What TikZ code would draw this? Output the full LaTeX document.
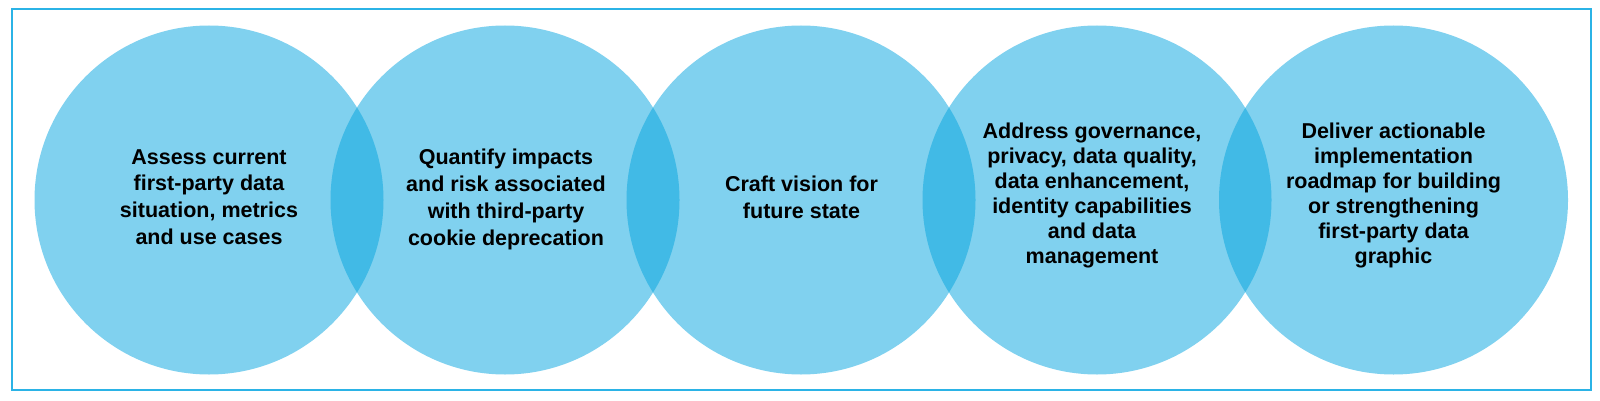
\documentclass[tikz,border=0pt]{standalone}
\usepackage{fontspec}
\setmainfont{Liberation Sans}
\definecolor{lightb}{HTML}{80D1EF}
\definecolor{darkb}{HTML}{41BAE6}
\definecolor{frameb}{HTML}{2BB3E6}
\begin{document}
\begin{tikzpicture}[x=1pt,y=1pt,
  circ/.style={circle,fill=lightb,minimum size=349pt,inner sep=0pt},
  lbl/.style={align=center,font=\bfseries\fontsize{21.5}{26.7}\selectfont,text=black},
  lbltight/.style={align=center,font=\bfseries\fontsize{21.5}{25.1}\selectfont,text=black}]
\useasboundingbox (0,0) rectangle (1600,400);
\node[draw=frameb,line width=1.3pt,minimum width=1579pt,minimum height=381pt,inner sep=0pt] (frame) at (801.5,200.5) {};
\foreach \i/\x in {1/209,2/505,3/801,4/1097,5/1393.5}{
  \node[circ] (c\i) at (\x,200) {};
}
\foreach \a/\b in {1/2,2/3,3/4,4/5}{
  \begin{scope}
    \clip (c\a.center) circle (174.5);
    \fill[darkb] (c\b.center) circle (174.5);
  \end{scope}
}
\node[lbl] (t1) at (209,203) {Assess current\\first-party data\\situation, metrics\\and use cases};
\node[lbl] (t2) at (506,200.6) {Quantify impacts\\and risk associated\\with third-party\\cookie deprecation};
\node[lbl] (t3) at (801.5,203) {Craft vision for\\future state};
\node[lbltight] (t4) at (1092,204.7) {Address governance,\\privacy, data quality,\\data enhancement,\\identity capabilities\\and data\\management};
\node[lbltight] (t5) at (1393.5,204.7) {Deliver actionable\\implementation\\roadmap for building\\or strengthening\\first-party data\\graphic};
\end{tikzpicture}
\end{document}
